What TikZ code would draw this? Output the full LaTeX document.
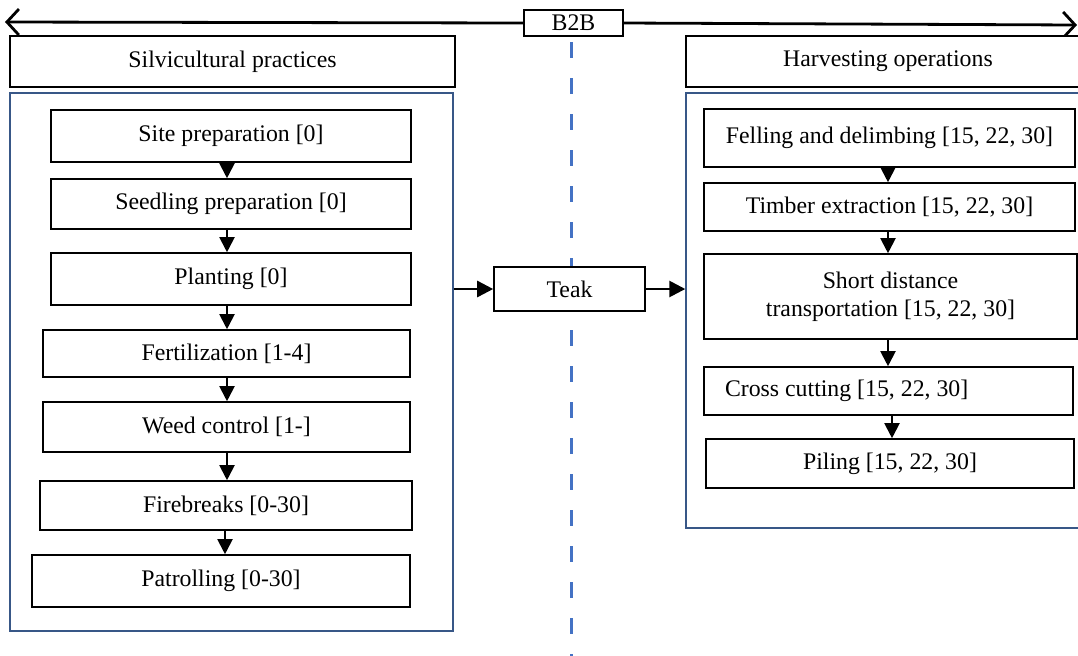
\documentclass[tikz,border=0pt]{standalone}
\usepackage{fontspec}
\setmainfont{Liberation Serif}
\usetikzlibrary{arrows.meta}
\definecolor{dashblue}{RGB}{68,114,196}
\definecolor{frameblue}{RGB}{56,87,135}
\begin{document}
\begin{tikzpicture}[x=0.5pt,y=-0.5pt,
  font=\fontsize{11.9}{14}\selectfont,
  box/.style={draw=black, line width=0.8pt, fill=white, inner sep=0pt, align=center},
  frame/.style={draw=frameblue, line width=0.7pt, inner sep=0pt},
  arr/.style={line width=1pt, -{Triangle[length=7.5pt,width=7.5pt]}},
  harr/.style={line width=1.3pt, -{Triangle[length=8pt,width=8pt]}},
  toparr/.style={line width=1.4pt, -{Straight Barb[length=6pt,width=13pt,line width=1.4pt]}}
]
\clip (0,0) rectangle (1078,655);
\fill[white] (0,0) rectangle (1078,655);

% dashed divider
\draw[dashblue, line width=1.5pt, dash pattern=on 8pt off 10pt] (571,42) -- (571,662);

% top B2B arrow
\node[box, minimum width=49.5pt, minimum height=13pt] (b2b) at (573.5,23) {B2B};
\coordinate (aL) at (5,22);
\coordinate (aR) at (1077,25);
\draw[toparr] (b2b.west) -- (aL);
\draw[toparr] (b2b.east) -- (aR);

% headers
\node[box, minimum width=222.5pt, minimum height=25.5pt] (silv) at (232.5,61.5) {Silvicultural practices};
\node[box, minimum width=202pt, minimum height=25.5pt] (harv) at (888,61.5) {Harvesting operations};

% containers
\node[frame, minimum width=221.5pt, minimum height=269pt] (contL) at (231.5,362) {};
\node[frame, minimum width=202pt, minimum height=217.5pt] (contR) at (888,310.5) {};

% left column
\node[box, minimum width=180pt, minimum height=26pt] (site) at (231,136) {Site preparation [0]};
\node[box, minimum width=180pt, minimum height=25pt] (seed) at (231,204) {Seedling preparation [0]};
\node[box, minimum width=180pt, minimum height=26pt] (plant) at (231,279) {Planting [0]};
\node[box, minimum width=183.5pt, minimum height=23.5pt] (fert) at (226.5,353.5) {Fertilization [1-4]};
\node[box, minimum width=183.5pt, minimum height=25pt] (weed) at (226.5,427) {Weed control [1-]};
\node[box, minimum width=186pt, minimum height=24.5pt] (fire) at (226,505.5) {Firebreaks [0-30]};
\node[box, minimum width=189pt, minimum height=26pt] (patrol) at (221,581) {Patrolling [0-30]};

\coordinate (axL) at (227,0);
\coordinate (axL2) at (225,0);
\draw[arr] (site.south -| axL) -- (seed.north -| axL);
\draw[arr] (seed.south -| axL) -- (plant.north -| axL);
\draw[arr] (plant.south -| axL) -- (fert.north -| axL);
\draw[arr] (fert.south -| axL) -- (weed.north -| axL);
\draw[arr] (weed.south -| axL) -- (fire.north -| axL);
\draw[arr] (fire.south -| axL2) -- (patrol.north -| axL2);

% teak
\node[box, minimum width=75.5pt, minimum height=22pt] (teak) at (569.5,289) {Teak};
\draw[harr] (teak.west -| contL.east) -- (teak.west);
\draw[harr] (teak.east) -- (teak.east -| contR.west);

% right column
\node[box, minimum width=185.5pt, minimum height=29pt] (fell) at (889.5,138) {Felling and delimbing [15, 22, 30]};
\node[box, minimum width=185.5pt, minimum height=24pt] (timber) at (889.5,207) {Timber extraction [15, 22, 30]};
\node[box, minimum width=186.5pt, minimum height=42.5pt] (short) at (890.5,296.5) {Short distance\\transportation [15, 22, 30]};
\node[box, minimum height=24pt, inner xsep=10.5pt, text width=163.5pt, align=flush left] (cross) at (888.5,391) {Cross cutting [15, 22, 30]};
\node[box, minimum width=184pt, minimum height=24.5pt] (piling) at (890,463.5) {Piling [15, 22, 30]};

\coordinate (axR) at (888,0);
\coordinate (axR2) at (892,0);
\draw[arr] (fell.south -| axR) -- (timber.north -| axR);
\draw[arr] (timber.south -| axR) -- (short.north -| axR);
\draw[arr] (short.south -| axR) -- (cross.north -| axR);
\draw[arr] (cross.south -| axR2) -- (piling.north -| axR2);
\end{tikzpicture}
\end{document}
